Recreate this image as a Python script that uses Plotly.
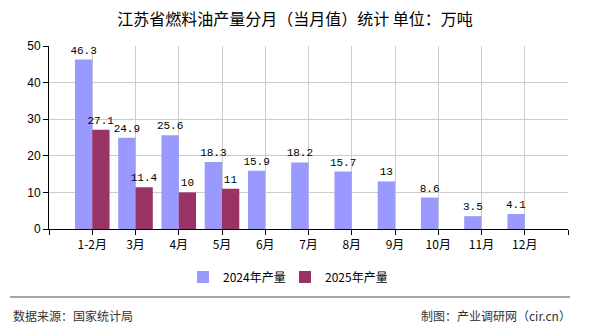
import plotly.graph_objects as go

months = ["1-2月", "3月", "4月", "5月", "6月", "7月", "8月", "9月", "10月", "11月", "12月"]
prod_2024 = [46.3, 24.9, 25.6, 18.3, 15.9, 18.2, 15.7, 13, 8.6, 3.5, 4.1]
prod_2025 = [27.1, 11.4, 10, 11, None, None, None, None, None, None, None]
y_ticks = [0, 10, 20, 30, 40, 50]

idx = list(range(len(months)))
W, H = 590, 330
L, R, T, B = 49, 22, 46, 101
pw, ph = W - L - R, H - T - B

def px_x(x):
    return (x - L) / pw

def px_y(y):
    return (H - B - y) / ph

CJK = "SimSun, Noto Sans CJK SC, sans-serif"
MONO = "Liberation Mono, DejaVu Sans Mono, monospace"
SANS = "Liberation Sans, Arial, sans-serif"

def fmt(v):
    return "" if v is None else ("%g" % v)

fig = go.Figure()
fig.add_trace(go.Bar(
    x=idx, y=prod_2024, name="2024年产量", marker=dict(color="#9999FF", line=dict(width=0)),
    text=[fmt(v) for v in prod_2024], textposition="outside", constraintext="none",
    textfont=dict(family=MONO, size=11, color="#000"), cliponaxis=False,
))
fig.add_trace(go.Bar(
    x=idx, y=prod_2025, name="2025年产量", marker=dict(color="#993366", line=dict(width=0)),
    text=[fmt(v) for v in prod_2025], textposition="outside", constraintext="none",
    textfont=dict(family=MONO, size=11, color="#000"), cliponaxis=False,
))

fig.update_layout(
    width=W, height=H,
    margin=dict(l=L, r=R, t=T, b=B),
    paper_bgcolor="white", plot_bgcolor="white",
    barmode="group", bargap=0.2, bargroupgap=0,
    showlegend=True,
    legend=dict(orientation="h", x=px_x(183), xanchor="left", y=px_y(277), yanchor="middle",
                font=dict(family=CJK, size=12, color="#000"), itemwidth=30,
                entrywidth=57, entrywidthmode="pixels",
                traceorder="normal"),
    title=dict(text="江苏省燃料油产量分月（当月值）统计 单位：万吨", x=0.5, xanchor="center",
               y=1 - 19 / H, yanchor="middle", font=dict(family=CJK, size=16, color="#000")),
    xaxis=dict(
        type="linear", range=[-1, len(months)],
        tickvals=list(range(-1, len(months) + 1)),
        ticktext=[""] + months + [""],
        showgrid=True, gridcolor="#cccccc", gridwidth=1,
        showline=True, linecolor="#000", linewidth=1,
        ticks="outside", ticklen=5, tickcolor="#000",
        tickfont=dict(family=CJK, size=12, color="#000"),
        zeroline=False,
    ),
    yaxis=dict(
        range=[0, 50], tickvals=y_ticks,
        showgrid=True, gridcolor="#cccccc", gridwidth=1,
        showline=True, linecolor="#000", linewidth=1,
        ticks="outside", ticklen=5, tickcolor="#000",
        tickfont=dict(family=SANS, size=12, color="#000"),
        zeroline=False,
    ),
    shapes=[
        dict(type="line", xref="paper", yref="paper", x0=px_x(10), x1=px_x(570),
             y0=px_y(297), y1=px_y(297), line=dict(color="#888888", width=1.5)),
    ],
    annotations=[
        dict(text="数据来源：国家统计局", xref="paper", yref="paper", x=px_x(11), y=px_y(315),
             xanchor="left", yanchor="middle", showarrow=False,
             font=dict(family=CJK, size=12, color="#333")),
        dict(text="制图：产业调研网（cir.cn）", xref="paper", yref="paper", x=px_x(573), y=px_y(315),
             xanchor="right", yanchor="middle", showarrow=False,
             font=dict(family=CJK, size=12, color="#333")),
    ],
)

fig.write_html("out.html")
